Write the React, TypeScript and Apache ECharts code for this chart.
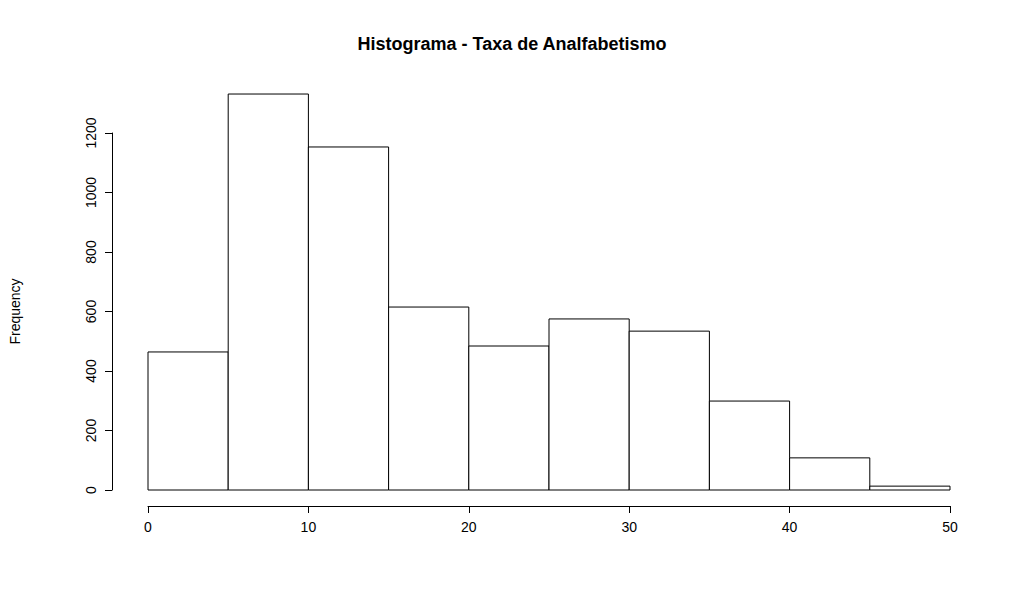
import { useEffect, useRef } from "react"
import * as echarts from "echarts"

const binStarts = [0, 5, 10, 15, 20, 25, 30, 35, 40, 45]
const binWidth = 5
const counts = [464, 1331, 1153, 615, 484, 575, 534, 299, 108, 13]
const xTicks = [0, 10, 20, 30, 40, 50]
const yTicks = [0, 200, 400, 600, 800, 1000, 1200]

const font = "'Liberation Sans', Arial, sans-serif"

export default function App() {
  const chartRef = useRef<HTMLDivElement>(null)

  useEffect(() => {
    document.body.style.margin = "0"
    if (!chartRef.current) return
    const chart = echarts.init(chartRef.current, null, { renderer: "svg" })

    const data = binStarts.map((s, i) => [s, s + binWidth, counts[i]])

    chart.setOption({
      animation: false,
      backgroundColor: "#fff",
      title: {
        text: "Histograma - Taxa de Analfabetismo",
        left: "center",
        top: 30,
        textStyle: { fontFamily: font, fontSize: 18, fontWeight: "bold", color: "#000" },
      },
      grid: { left: 112, right: 74, top: 133, bottom: 114 },
      xAxis: {
        type: "value",
        min: xTicks[0],
        max: xTicks[xTicks.length - 1],
        interval: 10,
        offset: 16,
        splitLine: { show: false },
        axisLine: { onZero: false, lineStyle: { color: "#000" } },
        axisTick: { length: 7, lineStyle: { color: "#000" } },
        axisLabel: { color: "#000", fontFamily: font, fontSize: 14, margin: 14 },
      },
      yAxis: {
        type: "value",
        min: yTicks[0],
        max: yTicks[yTicks.length - 1],
        interval: 200,
        offset: 36,
        name: "Frequency",
        nameLocation: "middle",
        nameGap: 90,
        nameRotate: 90,
        nameTextStyle: { color: "#000", fontFamily: font, fontSize: 14 },
        splitLine: { show: false },
        axisLine: { show: true, onZero: false, lineStyle: { color: "#000" } },
        axisTick: { show: true, length: 7, lineStyle: { color: "#000" } },
        axisLabel: {
          color: "#000",
          fontFamily: font,
          fontSize: 14,
          rotate: 90,
          margin: 14,
          formatter: (v: number) => String(v),
        },
      },
      series: [
        {
          type: "custom",
          clip: false,
          data,
          encode: { x: [0, 1], y: 2 },
          renderItem: (params: any, api: any) => {
            const p0 = api.coord([api.value(0), api.value(2)])
            const p1 = api.coord([api.value(1), 0])
            return {
              type: "rect",
              shape: { x: p0[0], y: p0[1], width: p1[0] - p0[0], height: p1[1] - p0[1] },
              style: { fill: "#fff", stroke: "#000", lineWidth: 1 },
            }
          },
        },
      ],
    })

    return () => chart.dispose()
  }, [])

  return <div ref={chartRef} style={{ width: 1024, height: 604 }} />
}
